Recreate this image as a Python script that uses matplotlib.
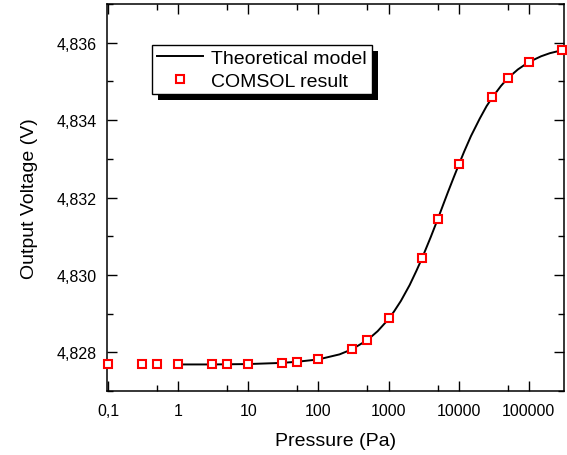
import matplotlib
matplotlib.use("Agg")
import matplotlib.pyplot as plt
from matplotlib.ticker import LogLocator, FixedLocator, FixedFormatter, MultipleLocator, FuncFormatter
from matplotlib.patches import Rectangle

plt.rcParams['font.family'] = ['Liberation Sans', 'DejaVu Sans']

# COMSOL result (markers)
p_comsol = [0.1, 0.3, 0.5, 1, 3, 5, 10, 30, 50, 100, 300, 500, 1000,
            3000, 5000, 10000, 30000, 50000, 100000, 300000]
v_comsol = [4.82769, 4.82769, 4.82769, 4.82769, 4.82769, 4.82769, 4.82770,
            4.82772, 4.82775, 4.82783, 4.82809, 4.82833, 4.82888,
            4.83045, 4.83145, 4.83288, 4.83460, 4.83508, 4.83550, 4.83582]

# Theoretical model (line)
p_model = [1, 3, 10, 30, 50, 100, 200, 300, 500, 700, 1000, 1200, 1500, 2000,
           2500, 3000, 4000, 5000, 6000, 7000, 8500, 10000, 12000, 15000,
           20000, 25000, 30000, 40000, 50000, 70000, 100000, 150000, 200000, 320000]
v_model = [4.82769, 4.82769, 4.82770, 4.82773, 4.82776, 4.82782, 4.82795, 4.82808,
           4.82832, 4.82855, 4.82886, 4.82906, 4.82933, 4.82974, 4.83011, 4.83043,
           4.83098, 4.83143, 4.83181, 4.83213, 4.83252, 4.83284, 4.83319, 4.83359,
           4.83404, 4.83436, 4.83458, 4.83488, 4.83508, 4.83531, 4.83550, 4.83565,
           4.83573, 4.83582]

x_ticks = [0.1, 1, 10, 100, 1000, 10000, 100000]
x_tick_labels = ["0,1", "1", "10", "100", "1000", "10000", "100000"]
y_ticks = [4.828, 4.830, 4.832, 4.834, 4.836]

fig = plt.figure(figsize=(5.67, 4.56), dpi=100)
ax = fig.add_axes([0.189, 0.140, 0.806, 0.849])

ax.plot(p_model, v_model, color="black", lw=1.4, label="Theoretical model", zorder=2)
ax.plot(p_comsol, v_comsol, ls="none", marker="s", ms=5.1, mew=1.5,
        mec="red", mfc="white", label="COMSOL result", zorder=3, clip_on=False)

ax.set_xscale("log")
ax.set_xlim(0.097, 3.2e5)
ax.set_ylim(4.827, 4.837)

ax.xaxis.set_major_locator(FixedLocator(x_ticks))
ax.xaxis.set_major_formatter(FixedFormatter(x_tick_labels))
ax.xaxis.set_minor_locator(LogLocator(base=10, subs=[5], numticks=20))
ax.xaxis.set_minor_formatter(FuncFormatter(lambda v, p: ""))
ax.yaxis.set_major_locator(FixedLocator(y_ticks))
ax.yaxis.set_minor_locator(MultipleLocator(0.001))
ax.yaxis.set_major_formatter(FuncFormatter(lambda v, p: f"{v:.3f}".replace(".", ",")))

ax.tick_params(which="both", direction="in", top=True, right=True, width=1)
ax.tick_params(which="major", length=7, labelsize=11.5)
ax.tick_params(which="minor", length=4)
ax.tick_params(axis="x", which="major", pad=8.5)
ax.tick_params(axis="y", which="major", pad=7.5)
for s in ax.spines.values():
    s.set_linewidth(1.1)

ax.set_xlabel("Pressure (Pa)", fontsize=14, labelpad=10)
ax.set_ylabel("Output Voltage (V)", fontsize=14, labelpad=13.5)

leg = ax.legend(loc="upper left", bbox_to_anchor=(0.098, 0.895), borderaxespad=0,
                fontsize=14, frameon=True, fancybox=False, edgecolor="black",
                framealpha=1, handlelength=2.4, handletextpad=0.4,
                borderpad=0.25, labelspacing=0.25)
leg.get_frame().set_linewidth(1.0)

# solid black offset shadow behind the legend box
fig.canvas.draw()
bb = leg.get_window_extent()
shadow = Rectangle((bb.x0 + 6, bb.y0 - 6), bb.width, bb.height, transform=None,
                   facecolor="black", edgecolor="none", zorder=4)
ax.add_artist(shadow)
leg.set_zorder(5)

fig.savefig("out.png", dpi=100)
